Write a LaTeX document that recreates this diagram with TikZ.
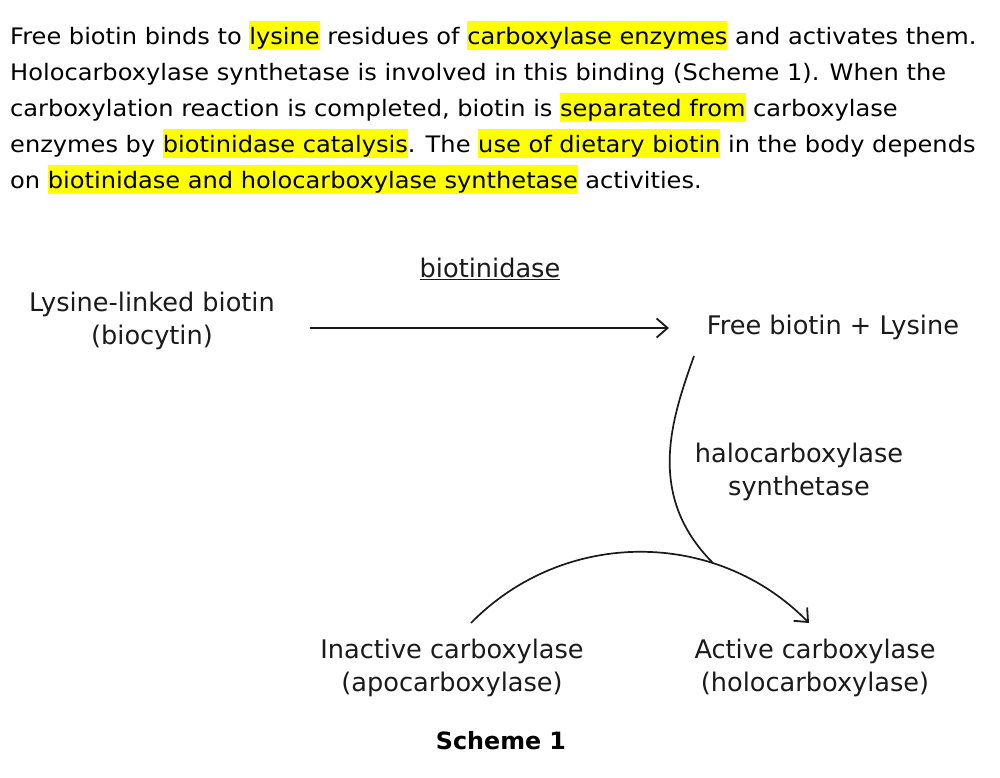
\documentclass[tikz,border=0pt]{standalone}
\usepackage{fontspec}
\setmainfont{DejaVu Sans}
\newfontfamily\parafont[FakeStretch=1.063]{DejaVu Sans}
\usetikzlibrary{arrows.meta}
\definecolor{hlyellow}{HTML}{FFFF00}
\definecolor{inkc}{HTML}{1A1A1A}
\newcommand\hlt[1]{{\setlength\fboxsep{0pt}\colorbox{hlyellow}{\rule[-5pt]{0pt}{29pt}#1}}}
\tikzset{
  para/.style={inner sep=0pt, anchor=base west, font=\parafont\fontsize{22.67}{36}\selectfont, text=black},
  lbl/.style={inner sep=0pt, align=center, font=\fontsize{25.6}{33}\selectfont, text=inkc},
  conn/.style={line width=1.7pt, draw=inkc},
  arr/.style={conn, -{Straight Barb[length=11pt,width=19pt,line width=1.8pt]}}
}
\begin{document}
\begin{tikzpicture}[x=1pt,y=-1pt]
\useasboundingbox[fill=white] (0,0) rectangle (1000,778);
% paragraph
\node[para] (p1) at (10,45) {Free biotin binds to \hlt{lysine} residues of \hlt{carboxylase enzymes} and activates them.};
\node[para] (p2) at (10,81) {Holocarboxylase synthetase is involved in this binding (Scheme 1). When the};
\node[para] (p3) at (10,117) {carboxylation reaction is completed, biotin is \hlt{separated from} carboxylase};
\node[para] (p4) at (10,153) {enzymes by \hlt{biotinidase catalysis}. The \hlt{use of dietary biotin} in the body depends};
\node[para] (p5) at (10,189) {on \hlt{biotinidase and holocarboxylase synthetase} activities.};
% diagram labels
\node[lbl] (lyb) at (152,320.5) {Lysine-linked biotin\\(biocytin)};
\node[lbl] (btd) at (490,269) {\underline{biotinidase}};
\node[lbl] (fbl) at (833,327) {Free biotin + Lysine};
\node[lbl] (hcs) at (799,471.5) {halocarboxylase\\synthetase};
\node[lbl] (inc) at (452,667.5) {Inactive carboxylase\\(apocarboxylase)};
\node[lbl] (acc) at (815,667.5) {Active carboxylase\\(holocarboxylase)};
\node[inner sep=0pt, font=\fontsize{23.8}{28}\selectfont\bfseries] (sch) at (501,741) {Scheme 1};
% connectors
\coordinate (a1) at (310,328);
\coordinate (a2) at (669,328);
\coordinate (c1) at (694,356);
\coordinate (c2) at (713,563);
\coordinate (r1) at (471,623);
\coordinate (r2) at (809,623);
\draw[arr] (a1) -- (a2);
\draw[conn] (c1) .. controls (672,418) and (645,495) .. (c2);
\draw[arr] (r1) .. controls (563.8,528.3) and (716.2,528.3) .. (r2);
\end{tikzpicture}
\end{document}
